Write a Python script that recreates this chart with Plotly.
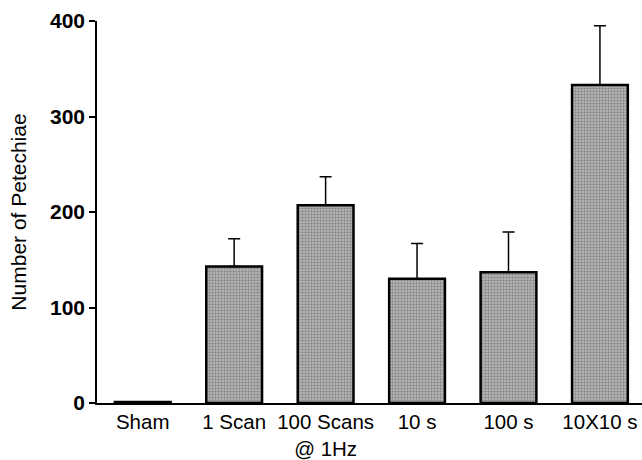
import plotly.graph_objects as go

categories = ["Sham", "1 Scan", "100 Scans<br>@ 1Hz", "10 s", "100 s", "10X10 s"]
values = [1, 143, 207, 130, 137, 333]
errors = [0, 29, 30, 37, 42, 62]
y_ticks = [0, 100, 200, 300, 400]

fig = go.Figure()
fig.add_trace(go.Bar(
    x=list(range(len(categories))),
    y=values,
    width=0.61,
    marker=dict(
        color="#a8a8a8",
        line=dict(color="black", width=2.5),
        pattern=dict(shape=".", fgcolor="#5a5a5a", bgcolor="#bcbcbc", size=3, solidity=0.5),
    ),
    error_y=dict(type="data", array=errors, arrayminus=[0] * len(errors), symmetric=False,
                 color="black", thickness=1.5, width=6),
    showlegend=False,
))

font_family = "Liberation Sans, Arial, sans-serif"
fig.update_layout(
    width=642, height=460,
    margin=dict(l=97, r=0, t=21, b=57),
    plot_bgcolor="white", paper_bgcolor="white",
    font=dict(family=font_family, color="black", size=20),
    xaxis=dict(
        tickmode="array", tickvals=list(range(len(categories))), ticktext=categories,
        range=[-0.5, 5.46], showline=True, linecolor="black", linewidth=1.5,
        ticks="", showgrid=False, zeroline=False,
        tickfont=dict(size=20.5, family=font_family),
    ),
    yaxis=dict(
        range=[0, 400], tickvals=y_ticks, showline=True, linecolor="black", linewidth=1.5,
        ticks="outside", ticklen=6, tickwidth=1.5, tickcolor="black",
        showgrid=False, zeroline=False,
        tickfont=dict(size=21, family=font_family, weight="bold"),
        title=dict(text="Number of Petechiae", font=dict(size=21), standoff=18),
    ),
    bargap=0.39,
)

fig.write_html("out.html")
